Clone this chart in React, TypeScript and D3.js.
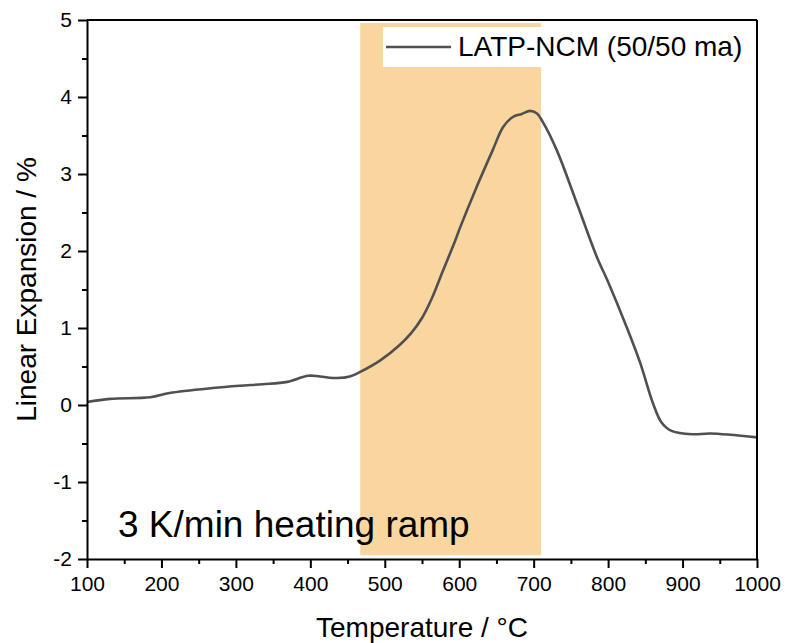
import React, { useEffect, useRef } from "react";
import * as d3 from "d3";

// measured curve (temperature in °C, linear expansion in %)
const temps = [100, 131, 185, 211, 269, 305, 336, 369, 397, 413, 436, 453, 467, 494, 520, 536, 550, 563, 578, 594, 601, 622, 645, 659, 672, 684, 695, 704, 712, 731, 758, 785, 799, 825, 843, 860, 872, 886, 914, 937, 1000];
const expansion = [0.04, 0.08, 0.1, 0.155, 0.22, 0.25, 0.27, 0.3, 0.38, 0.37, 0.35, 0.37, 0.43, 0.58, 0.78, 0.94, 1.13, 1.38, 1.74, 2.12, 2.3, 2.8, 3.31, 3.61, 3.74, 3.78, 3.82, 3.79, 3.68, 3.31, 2.62, 1.92, 1.62, 1.01, 0.55, 0.03, -0.23, -0.34, -0.38, -0.37, -0.42];

const shadeRange = [467, 710];
const xTicks = [100, 200, 300, 400, 500, 600, 700, 800, 900, 1000];
const yTicks = [-2, -1, 0, 1, 2, 3, 4, 5];
const legendLabel = "LATP-NCM (50/50 ma)";
const note = "3 K/min heating ramp";

const W = 785;
const H = 643;
const margin = { top: 20, right: 28, bottom: 84, left: 87 };
const FONT = "'Liberation Sans', Arial, sans-serif";

export default function App() {
  const ref = useRef<SVGSVGElement>(null);

  useEffect(() => {
    const svg = d3.select(ref.current);
    svg.selectAll("*").remove();

    const w = W - margin.left - margin.right;
    const h = H - margin.top - margin.bottom;

    const x = d3.scaleLinear().domain([100, 1000]).range([0, w]);
    const y = d3.scaleLinear().domain([-2, 5]).range([h, 0]);

    const g = svg.append("g").attr("transform", `translate(${margin.left},${margin.top})`);

    // shaded temperature window
    g.append("rect")
      .attr("x", x(shadeRange[0]))
      .attr("width", x(shadeRange[1]) - x(shadeRange[0]))
      .attr("y", y(4.96))
      .attr("height", y(-1.95) - y(4.96))
      .attr("fill", "#F9D5A0");

    // legend box
    g.append("rect")
      .attr("x", 296)
      .attr("y", 7)
      .attr("width", 365)
      .attr("height", 40)
      .attr("fill", "#fff");
    g.append("line")
      .attr("x1", 299).attr("x2", 364)
      .attr("y1", 27).attr("y2", 27)
      .attr("stroke", "#505050").attr("stroke-width", 2.5);
    g.append("text")
      .attr("x", 371).attr("y", 36)
      .attr("font-family", FONT).attr("font-size", 28)
      .text(legendLabel);

    // curve
    const pts = temps.map((t, i) => [t, expansion[i]] as [number, number]);
    const line = d3.line<[number, number]>()
      .x(d => x(d[0]))
      .y(d => y(d[1]))
      .curve(d3.curveCatmullRom.alpha(0.5));
    g.append("path")
      .datum(pts)
      .attr("d", line)
      .attr("fill", "none")
      .attr("stroke", "#505050")
      .attr("stroke-width", 2.6)
      .attr("stroke-linejoin", "round");

    // annotation
    g.append("text")
      .attr("x", 31).attr("y", 517)
      .attr("font-family", FONT).attr("font-size", 37)
      .text(note);

    // axes
    const fmt = (d: any) => String(d).replace("-", "-");
    const styleAxis = (sel: any) => {
      sel.select(".domain").attr("stroke-width", 2);
      sel.selectAll(".tick line").attr("stroke-width", 2);
      sel.selectAll(".tick text").attr("font-family", FONT).attr("font-size", 21).attr("fill", "#000");
    };

    const xMinor = g.append("g").attr("transform", `translate(0,${h})`)
      .call(d3.axisBottom(x).tickValues(d3.range(150, 1000, 100)).tickSize(5).tickFormat(() => ""));
    xMinor.select(".domain").remove();
    xMinor.selectAll(".tick line").attr("stroke-width", 2);

    const yMinor = g.append("g")
      .call(d3.axisLeft(y).tickValues(d3.range(-1.5, 5, 1)).tickSize(5).tickFormat(() => ""));
    yMinor.select(".domain").remove();
    yMinor.selectAll(".tick line").attr("stroke-width", 2);

    g.append("g").attr("transform", `translate(0,${h})`)
      .call(d3.axisBottom(x).tickValues(xTicks).tickSize(9).tickSizeOuter(0).tickPadding(8).tickFormat(fmt))
      .call(styleAxis);

    g.append("g")
      .call(d3.axisLeft(y).tickValues(yTicks).tickSize(9).tickSizeOuter(0).tickPadding(6).tickFormat(fmt))
      .call(styleAxis);

    // top and right frame
    g.append("line").attr("x1", 0).attr("x2", w).attr("y1", 0).attr("y2", 0)
      .attr("stroke", "#000").attr("stroke-width", 2);
    g.append("line").attr("x1", w).attr("x2", w).attr("y1", 0).attr("y2", h)
      .attr("stroke", "#000").attr("stroke-width", 2);

    // axis titles
    svg.append("text")
      .attr("x", margin.left + w / 2).attr("y", 637)
      .attr("text-anchor", "middle")
      .attr("font-family", FONT).attr("font-size", 28)
      .text("Temperature / °C");
    svg.append("text")
      .attr("transform", `translate(36,${margin.top + y(1.5)}) rotate(-90)`)
      .attr("text-anchor", "middle")
      .attr("font-family", FONT).attr("font-size", 28)
      .text("Linear Expansion / %");
  }, []);

  return (
    <svg
      ref={ref}
      width={W}
      height={H}
      style={{ position: "absolute", left: 0, top: 0, background: "#fff" }}
    />
  );
}
